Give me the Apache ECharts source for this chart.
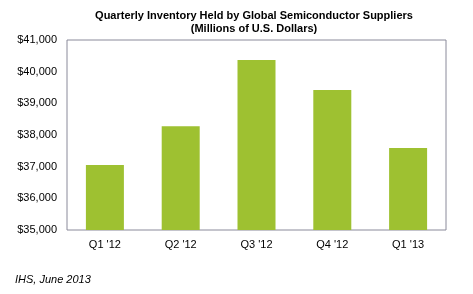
<!DOCTYPE html>
<html>
<head>
<meta charset="utf-8">
<script src="https://cdn.jsdelivr.net/npm/echarts@6/dist/echarts.min.js"></script>
<style>
    html, body { margin: 0; padding: 0; background: #fff; }
    #chart { width: 473px; height: 294px; }
</style>
</head>
<body>
<div id="chart"></div>
<script>
    // 季度库存数据（百万美元）
    var quarters = ["Q1 '12", "Q2 '12", "Q3 '12", "Q4 '12", "Q1 '13"];
    var inventory = [37050, 38280, 40370, 39420, 37590];

    var chart = echarts.init(document.getElementById('chart'));
    var option = {
        animation: false,
        title: [
            {
                text: 'Quarterly Inventory Held by Global Semiconductor Suppliers\n(Millions of U.S. Dollars)',
                left: 254,
                top: 9,
                padding: 0,
                textAlign: 'center',
                textStyle: {
                    fontFamily: 'Liberation Sans',
                    fontSize: 11,
                    fontWeight: 'bold',
                    color: '#000',
                    lineHeight: 13
                }
            },
            {
                text: 'IHS, June 2013',
                left: 15,
                top: 274,
                padding: 0,
                textStyle: {
                    fontFamily: 'Liberation Sans',
                    fontSize: 11,
                    fontStyle: 'italic',
                    fontWeight: 'normal',
                    color: '#000'
                }
            }
        ],
        grid: {
            left: 67,
            right: 27,
            top: 40,
            bottom: 64,
            show: true,
            borderColor: '#8a8a9a',
            borderWidth: 1
        },
        xAxis: {
            type: 'category',
            data: quarters,
            axisLine: { show: false },
            axisTick: { show: false },
            axisLabel: {
                fontFamily: 'Liberation Sans',
                fontSize: 11,
                color: '#000',
                margin: 9
            }
        },
        yAxis: {
            type: 'value',
            min: 35000,
            max: 41000,
            interval: 1000,
            splitLine: { show: false },
            axisLine: { show: false },
            axisTick: { show: false },
            axisLabel: {
                fontFamily: 'Liberation Sans',
                fontSize: 11,
                color: '#000',
                margin: 10,
                formatter: function (v) {
                    return '$' + v.toLocaleString('en-US');
                }
            }
        },
        series: [
            {
                type: 'bar',
                data: inventory,
                barWidth: 38,
                itemStyle: { color: '#9ec131' }
            }
        ]
    };
    chart.setOption(option, true);
</script>
</body>
</html>
